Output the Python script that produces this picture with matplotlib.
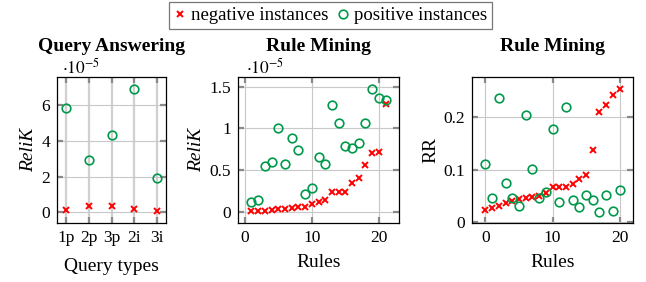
import matplotlib
matplotlib.use("Agg")
import matplotlib.pyplot as plt
from matplotlib.lines import Line2D

# ---- data ----
qa_categories = ["1p", "2p", "3p", "2i", "3i"]
qa_negative = [0.15e-5, 0.37e-5, 0.33e-5, 0.19e-5, 0.09e-5]
qa_positive = [5.81e-5, 2.94e-5, 4.33e-5, 6.90e-5, 1.93e-5]

rm_rules = list(range(1, 22))
rm_negative = [0.012e-5, 0.012e-5, 0.012e-5, 0.028e-5, 0.032e-5, 0.040e-5, 0.044e-5,
               0.056e-5, 0.064e-5, 0.10e-5, 0.12e-5, 0.14e-5, 0.24e-5, 0.24e-5,
               0.24e-5, 0.35e-5, 0.41e-5, 0.56e-5, 0.70e-5, 0.72e-5, 1.285e-5]
rm_positive = [0.12e-5, 0.14e-5, 0.553e-5, 0.593e-5, 1.006e-5, 0.573e-5, 0.887e-5,
               0.74e-5, 0.219e-5, 0.282e-5, 0.66e-5, 0.577e-5, 1.277e-5, 1.062e-5,
               0.784e-5, 0.76e-5, 0.823e-5, 1.058e-5, 1.468e-5, 1.364e-5, 1.344e-5]

rr_rules = list(range(0, 21))
rr_negative = [0.024, 0.027, 0.032, 0.037, 0.041, 0.045, 0.047, 0.048, 0.050, 0.055,
               0.067, 0.067, 0.067, 0.073, 0.082, 0.090, 0.137, 0.208, 0.222, 0.241, 0.253]
rr_positive = [0.111, 0.046, 0.236, 0.075, 0.0465, 0.031, 0.203, 0.1006, 0.0465, 0.057,
               0.177, 0.039, 0.218, 0.043, 0.029, 0.052, 0.043, 0.020, 0.052, 0.0217, 0.061]

SCALE = 1e-5

RED = "#ff0000"
GREEN = "#00994c"
plt.rcParams["font.family"] = ["Liberation Serif", "DejaVu Serif"]
plt.rcParams["mathtext.fontset"] = "stix"

fig = plt.figure(figsize=(6.46, 2.82), dpi=100)
W, H = 646, 282

def add_ax(x0, x1, y0, y1):
    return fig.add_axes([x0 / W, (H - y1) / H, (x1 - x0) / W, (y1 - y0) / H])

ax1 = add_ax(57, 166, 77, 223)
ax2 = add_ax(238, 399, 77, 223)
ax3 = add_ax(472, 633, 77, 223)

neg_kw = dict(linestyle="none", marker="x", color=RED, markersize=4, markeredgewidth=1.4, zorder=3)
pos_kw = dict(linestyle="none", marker="o", markerfacecolor="none", markeredgecolor=GREEN,
              markersize=6.2, markeredgewidth=1.2, zorder=3)

qa_x = list(range(len(qa_categories)))
ax1.plot(qa_x, [v / SCALE for v in qa_negative], **neg_kw)
ax1.plot(qa_x, [v / SCALE for v in qa_positive], **pos_kw)
ax2.plot(rm_rules, [v / SCALE for v in rm_negative], **neg_kw)
ax2.plot(rm_rules, [v / SCALE for v in rm_positive], **pos_kw)
ax3.plot(rr_rules, rr_negative, **neg_kw)
ax3.plot(rr_rules, rr_positive, **pos_kw)

ax1.set_xlim(-0.4, 4.4)
ax1.set_ylim(-0.59, 7.55)
ax1.set_xticks(qa_x)
ax1.set_xticklabels(qa_categories)
ax1.set_yticks([0, 2, 4, 6])

ax2.set_xlim(-1, 23)
ax2.set_ylim(-0.133, 1.614)
ax2.set_xticks([0, 10, 20])
ax2.set_yticks([0, 0.5, 1, 1.5])
ax2.set_yticklabels(["0", "0.5", "1", "1.5"])

ax3.set_xlim(-2, 22)
ax3.set_ylim(-0.001, 0.275)
ax3.set_xticks([0, 10, 20])
ax3.set_yticks([0, 0.1, 0.2])
ax3.set_yticklabels(["0", "0.1", "0.2"])

for ax in (ax1, ax2, ax3):
    ax.grid(True, color="#c8c8c8", linewidth=0.8, zorder=0)
    ax.set_axisbelow(True)
    ax.tick_params(direction="in", length=4, width=1.6, color="#8a8a8a",
                   top=True, right=True, labelsize=12.5, pad=5)
    for s in ax.spines.values():
        s.set_linewidth(0.9)
        s.set_color("black")
ax1.grid(True, axis="x", color="#d0d0d0", linewidth=1.6)

TITLE_FS = 14
LABEL_FS = 14
ax1.set_title("Query Answering", fontsize=TITLE_FS, fontweight="bold", pad=19)
ax2.set_title("Rule Mining", fontsize=TITLE_FS, fontweight="bold", pad=19)
ax3.set_title("Rule Mining", fontsize=TITLE_FS, fontweight="bold", pad=19)

ax1.set_ylabel("ReliK", fontsize=LABEL_FS, style="italic", labelpad=3)
ax2.set_ylabel("ReliK", fontsize=LABEL_FS, style="italic", labelpad=3)
ax3.set_ylabel("RR", fontsize=LABEL_FS, labelpad=3)
ax1.set_xlabel("Query types", fontsize=LABEL_FS, labelpad=9)
ax2.set_xlabel("Rules", fontsize=LABEL_FS, labelpad=6)
ax3.set_xlabel("Rules", fontsize=LABEL_FS, labelpad=6)

for ax in (ax1, ax2):
    ax.text(0.05, 0.995, r"$\cdot 10^{-5}$", transform=ax.transAxes, fontsize=12.5,
            ha="left", va="bottom")

handles = [
    Line2D([], [], **neg_kw),
    Line2D([], [], **pos_kw),
]
leg = fig.legend(handles, ["negative instances", "positive instances"], loc="upper center",
                 bbox_to_anchor=(0.512, 1.025), ncol=2, fontsize=13.5, frameon=True,
                 fancybox=False, edgecolor="#555555", handlelength=0.6, handletextpad=0.3,
                 columnspacing=0.5, borderpad=0.25)
leg.get_frame().set_linewidth(0.9)

fig.savefig("out.png", dpi=100)
